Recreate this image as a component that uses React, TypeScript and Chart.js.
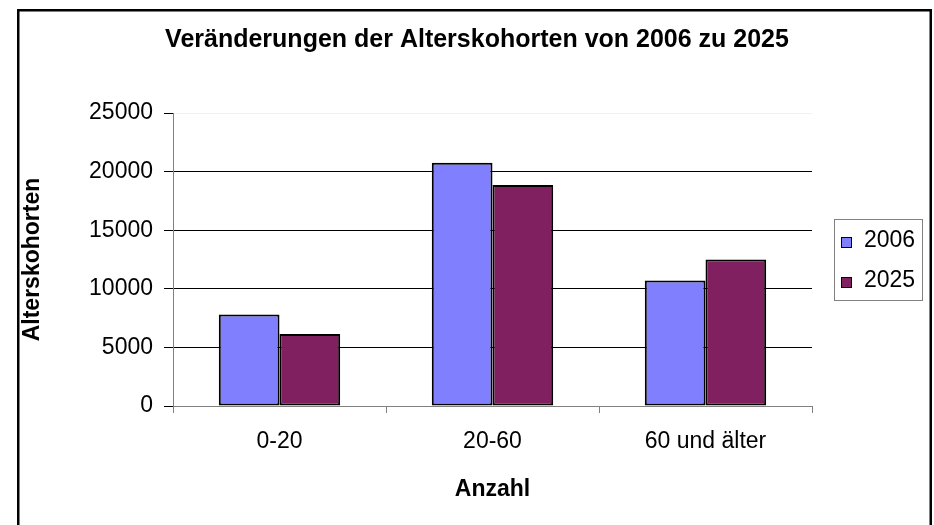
import React, { useEffect, useRef } from "react";
import { Chart, registerables } from "chart.js";

Chart.register(...registerables);

const categories = ["0-20", "20-60", "60 und älter"];
const seriesNames = ["2006", "2025"];
const values2006 = [7800, 20750, 10700];
const values2025 = [6150, 18850, 12500];
const yTickMax = 25000;
const yTickStep = 5000;
const chartTitle = "Veränderungen der Alterskohorten von 2006 zu 2025";
const xTitle = "Anzahl";
const yTitle = "Alterskohorten";

const FONT = "'Liberation Sans', Arial, sans-serif";
const colors = ["#8080ff", "#802060"];

const decorPlugin = {
  id: "decor",
  beforeDraw(chart: any) {
    const ctx = chart.ctx;
    ctx.save();
    ctx.fillStyle = "#ffffff";
    ctx.fillRect(0, 0, chart.width, chart.height);
    ctx.restore();
  },
  afterDraw(chart: any) {
    const ctx = chart.ctx;
    ctx.save();
    ctx.strokeStyle = "#000000";
    ctx.lineWidth = 2.5;
    ctx.strokeRect(18.25, 10.25, 912.5, 600);
    ctx.fillStyle = "#000000";
    ctx.font = `bold 25px ${FONT}`;
    ctx.textAlign = "center";
    ctx.textBaseline = "alphabetic";
    ctx.fillText(chartTitle, 477, 47);
    ctx.strokeStyle = "#808080";
    ctx.lineWidth = 1;
    ctx.strokeRect(834.5, 219.5, 88, 81);
    ctx.font = `23px ${FONT}`;
    ctx.textAlign = "left";
    chart.data.datasets.forEach((ds: any, i: number) => {
      const y = 237 + i * 40;
      ctx.fillStyle = ds.backgroundColor;
      ctx.fillRect(841, y, 10, 11);
      ctx.strokeStyle = "#000000";
      ctx.lineWidth = 1;
      ctx.strokeRect(841.5, y + 0.5, 10, 10);
      ctx.fillStyle = "#000000";
      ctx.fillText(ds.label, 864, y + 10);
    });
    ctx.restore();
  },
};

export default function App() {
  const ref = useRef<HTMLCanvasElement | null>(null);

  useEffect(() => {
    if (!ref.current) return;
    const chart = new Chart(ref.current, {
      type: "bar",
      data: {
        labels: categories,
        datasets: [
          {
            label: seriesNames[0],
            data: values2006,
            backgroundColor: colors[0],
            borderColor: "#000000",
            borderWidth: 2,
            borderSkipped: false,
          },
          {
            label: seriesNames[1],
            data: values2025,
            backgroundColor: colors[1],
            borderColor: "#000000",
            borderWidth: 2,
            borderSkipped: false,
          },
        ],
      },
      options: {
        responsive: false,
        animation: false,
        devicePixelRatio: 1,
        layout: { padding: { top: 113, right: 122, bottom: 19, left: 0 } },
        datasets: {
          bar: { categoryPercentage: 0.57, barPercentage: 1 },
        },
        plugins: {
          legend: { display: false },
          title: { display: false },
          tooltip: { enabled: false },
        },
        scales: {
          x: {
            afterFit(scale: any) {
              scale.height = 100;
            },
            grid: {
              display: true,
              drawOnChartArea: false,
              drawTicks: true,
              tickLength: 7,
              color: "#808080",
              offset: true,
            },
            border: { display: true, color: "#808080", width: 1 },
            ticks: {
              color: "#000000",
              font: { family: FONT, size: 23 },
              padding: 15,
              maxRotation: 0,
            },
            title: {
              display: true,
              text: xTitle,
              color: "#000000",
              font: { family: FONT, size: 23, weight: "bold" },
              padding: { top: 0, bottom: 3 },
            },
          },
          y: {
            min: 0,
            max: yTickMax,
            afterFit(scale: any) {
              scale.width = 173;
            },
            grid: {
              color: (c: any) =>
                c.tick && c.tick.value === yTickMax
                  ? "rgba(0,0,0,0.06)"
                  : c.tick && c.tick.value === 0
                  ? "#808080"
                  : "#000000",
              tickColor: "#000000",
              tickLength: 9,
              lineWidth: 1,
            },
            border: { display: true, color: "#808080", width: 1 },
            ticks: {
              stepSize: yTickStep,
              color: "#000000",
              font: { family: FONT, size: 23 },
              padding: 11,
              callback: (v: any) => String(v),
            },
            title: {
              display: true,
              text: yTitle,
              color: "#000000",
              font: { family: FONT, size: 23, weight: "bold" },
              padding: { top: 19, bottom: 0 },
            },
          },
        },
      },
      plugins: [decorPlugin],
    });
    return () => chart.destroy();
  }, []);

  return (
    <div style={{ position: "fixed", left: 0, top: 0, width: 934, height: 525 }}>
      <canvas ref={ref} width={934} height={525} />
    </div>
  );
}
